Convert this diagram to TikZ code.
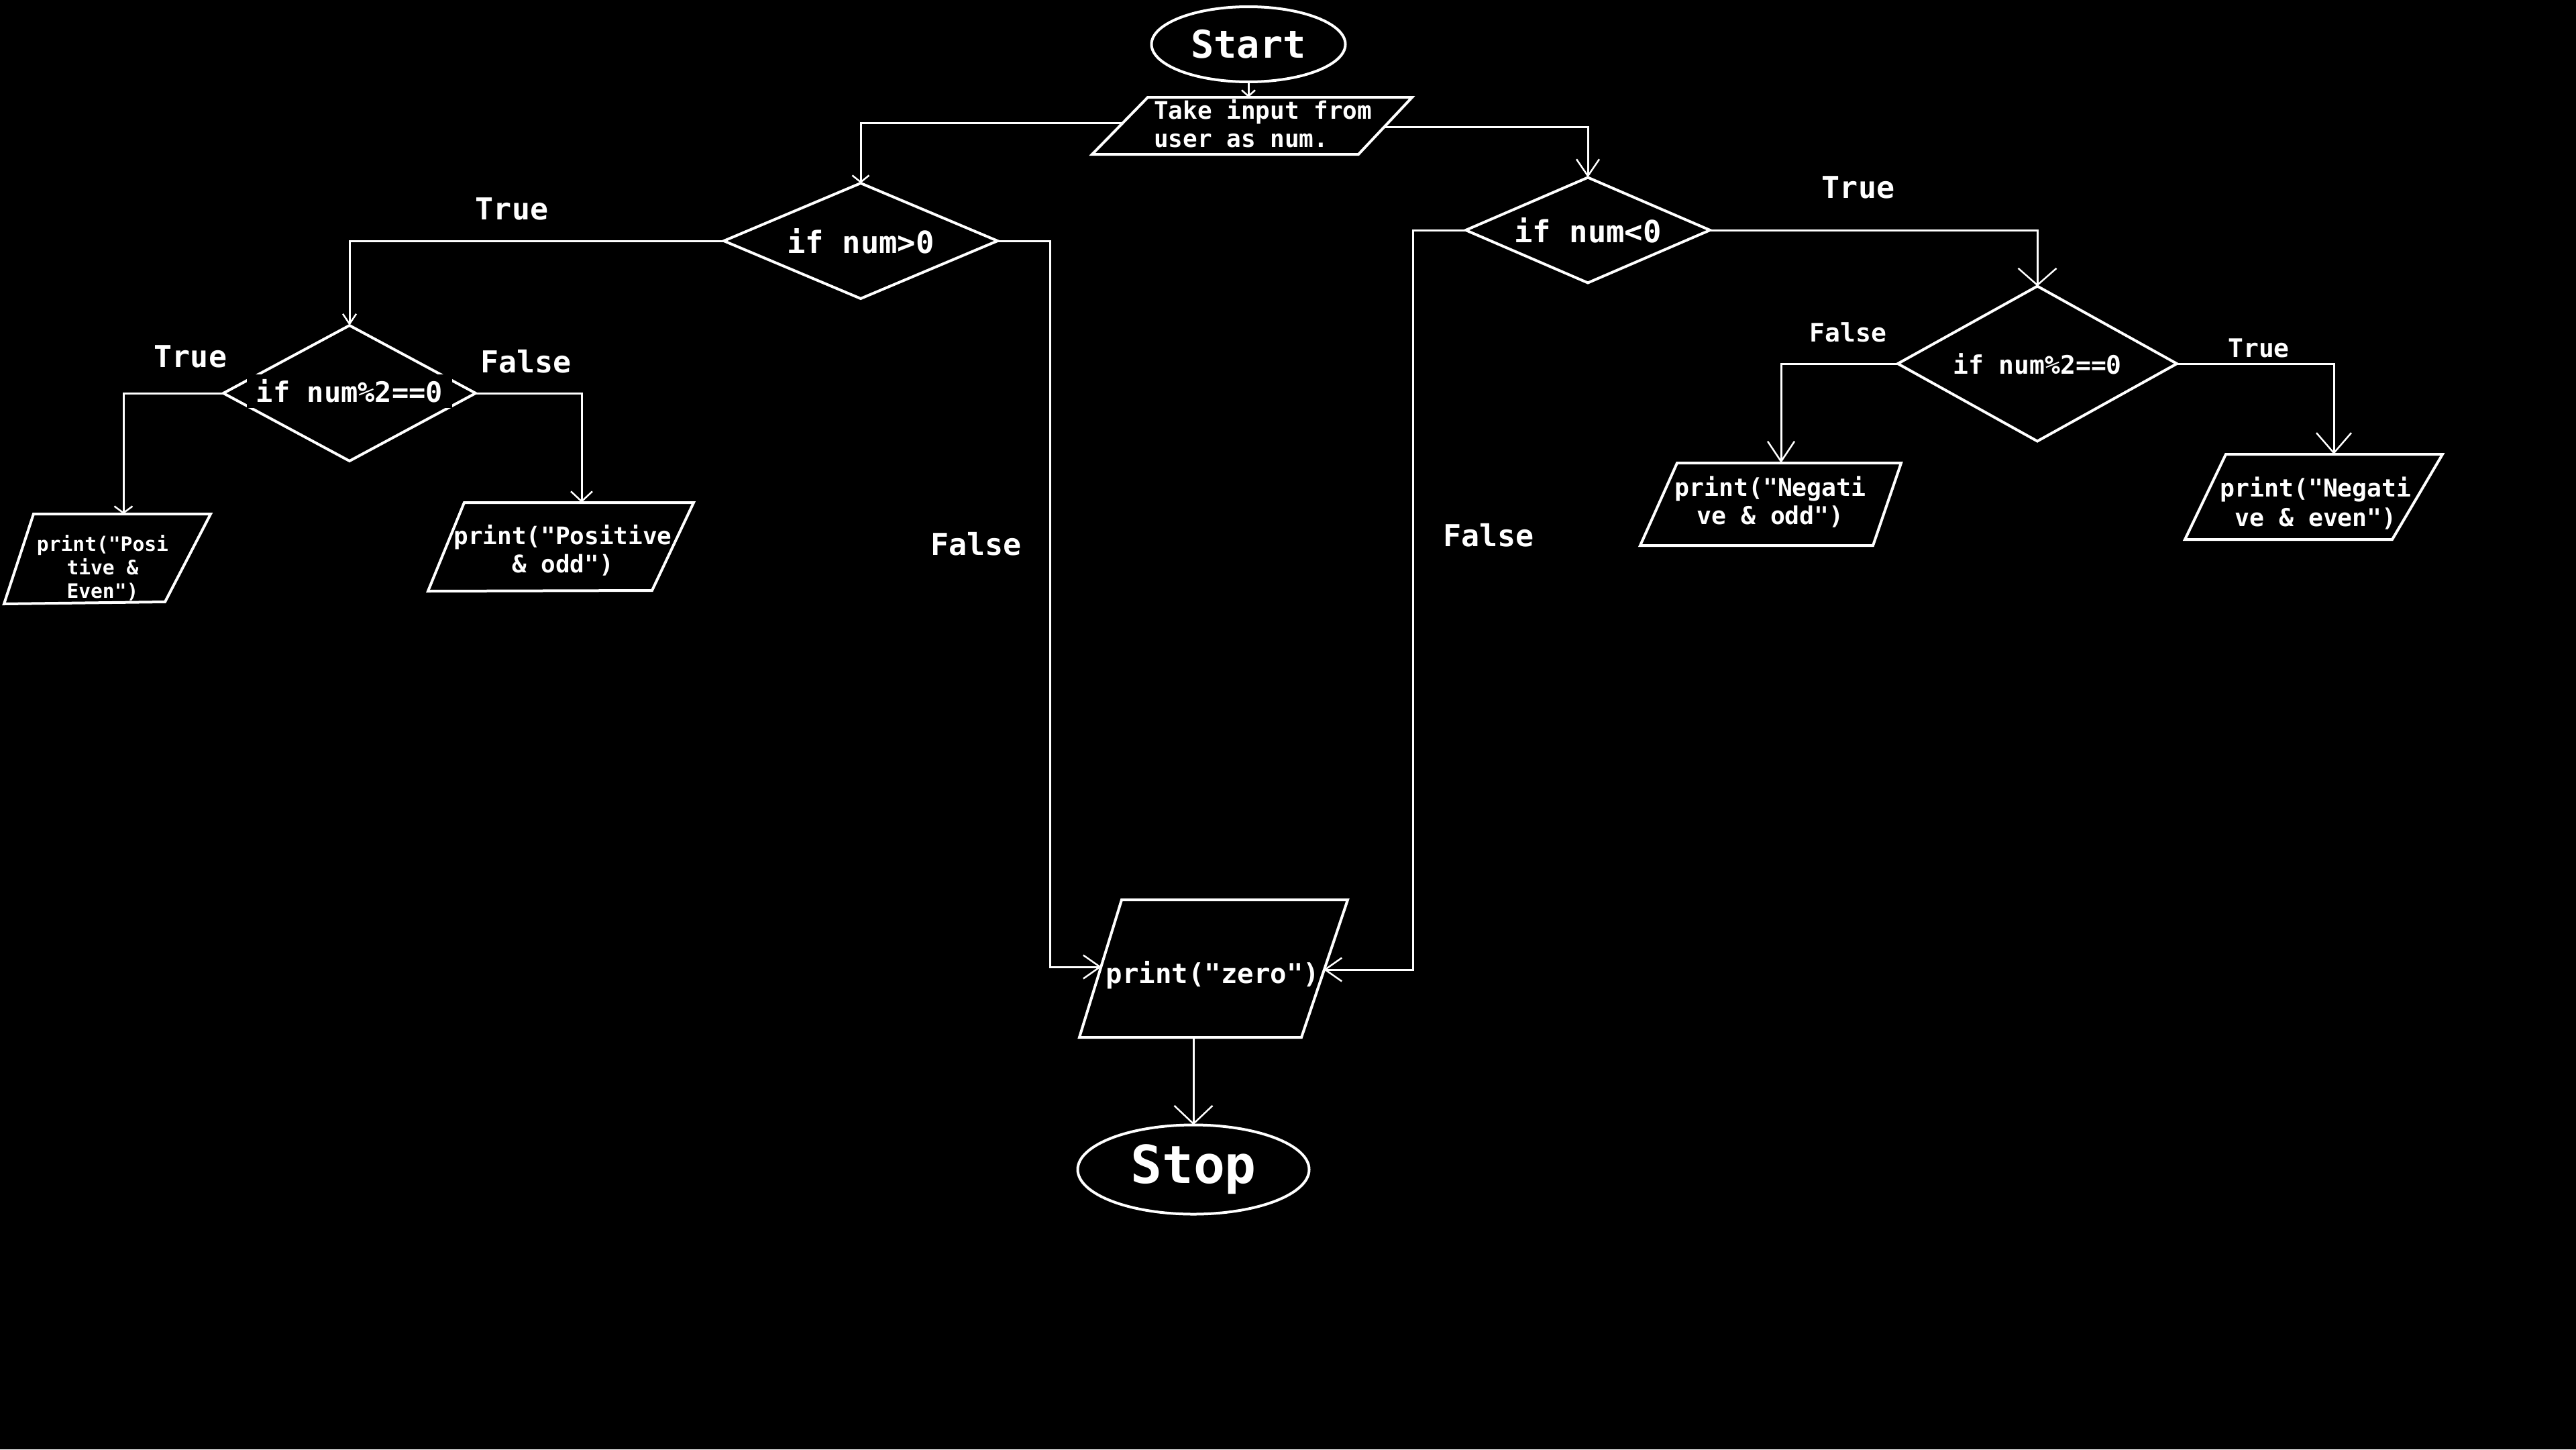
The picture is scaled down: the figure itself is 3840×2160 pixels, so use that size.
\documentclass[tikz,border=0pt]{standalone}
\usepackage{fontspec}
\setmonofont{DejaVu Sans Mono}
\usetikzlibrary{shapes.geometric,arrows.meta,calc}
\newcommand{\fsz}[2]{\fontsize{#1pt}{#2pt}\selectfont}
\begin{document}
\begin{tikzpicture}[x=1pt,y=-1pt,
  every node/.style={text=white, font=\ttfamily\bfseries, inner sep=0pt, outer sep=0pt},
  shp/.style={draw=white, line width=4pt},
  conn/.style={draw=white, line width=3pt},
  arr/.style n args={2}{conn, -{Straight Barb[length=#1pt, width=#2pt, line width=2.5pt]}},
  lbl/.style={font=\ttfamily\bfseries\fsz{45}{54}},
  slbl/.style={font=\ttfamily\bfseries\fsz{38}{46}}
]
\useasboundingbox (0,0) rectangle (3840,2160);
\fill[black] (0,0) rectangle (3840,2160);

% terminals
\node[shp, ellipse, minimum width=289pt, minimum height=112pt, font=\ttfamily\bfseries\fsz{57}{66}] (st) at (1861,66) {Start};
\node[shp, ellipse, minimum width=345pt, minimum height=133pt, font=\ttfamily\bfseries\fsz{78}{90}] (sp) at (1779,1743) {Stop};

% input parallelogram
\draw[shp] (1711,145) -- (2105,145) -- (2025,230) -- (1628,230) -- cycle;
\node[anchor=west, align=left, font=\ttfamily\bfseries\fsz{36}{42}] (in) at (1720,184) {Take input from\\user as num.};
\coordinate (intop) at (1861,145);
\coordinate (inL) at (1674,183);
\coordinate (inR) at (2064,189);

% decisions
\node[shp, diamond, aspect=2.37, minimum width=408pt, minimum height=172pt, font=\ttfamily\bfseries\fsz{45.5}{54}] (d1) at (1283,359) {if num>0};
\node[shp, diamond, aspect=2.32, minimum width=364pt, minimum height=157pt, font=\ttfamily\bfseries\fsz{45.5}{54}] (d2) at (2367,343) {if num<0};
\node[shp, diamond, aspect=1.86, minimum width=376pt, minimum height=202pt] (d3) at (521,586) {};
\node[fill=black, inner xsep=14pt, inner ysep=8pt, font=\ttfamily\bfseries\fsz{42}{50}] (d3t) at (521,583) {if num\%2==0};
\node[shp, diamond, aspect=1.8, minimum width=416pt, minimum height=231pt, font=\ttfamily\bfseries\fsz{38}{46}] (d4) at (3037,542) {if num\%2==0};

% outputs
\draw[shp] (50,766) -- (314,766) -- (246,897) -- (6,900) -- cycle;
\node[align=center, font=\ttfamily\bfseries\fsz{29.6}{35}] (pe) at (153,846) {print("Posi\\tive \&\\Even")};
\coordinate (pet) at (184,766);

\draw[shp] (692,749) -- (1034,749) -- (972,880) -- (638,881) -- cycle;
\node[align=center, font=\ttfamily\bfseries\fsz{36}{42}] (po) at (839,820) {print("Positive\\\& odd")};
\coordinate (pot) at (867,749);

\draw[shp] (1672,1341) -- (2009,1341) -- (1940,1546) -- (1609,1546) -- cycle;
\node[anchor=base, font=\ttfamily\bfseries\fsz{40.7}{48}] (pz) at (1808,1465) {print("zero")};
\coordinate (pzL) at (1642,1441);
\coordinate (pzR) at (1973,1445);
\coordinate (pzB) at (1779,1546);

\draw[shp] (2500,690) -- (2834,690) -- (2792,813) -- (2445,813) -- cycle;
\node[align=center, font=\ttfamily\bfseries\fsz{36.5}{42}] (no) at (2639,748) {print("Negati\\ve \& odd")};
\coordinate (not) at (2655,690);

\draw[shp] (3318,677) -- (3641,677) -- (3566,804) -- (3257,804) -- cycle;
\node[align=center, font=\ttfamily\bfseries\fsz{36.5}{44}] (ne) at (3452,750) {print("Negati\\ve \& even")};
\coordinate (net) at (3479,677);

% connectors
\draw[arr={9}{20}] (st.south) -- (intop);
\draw[arr={10}{25}] (inL) -| (d1.north);
\draw[arr={25}{34}] (inR) -| (d2.north);
\draw[arr={15}{20}] (d1.west) -| (d3.north);
\draw[arr={25}{35}] (d1.east) -- ++(78,0) |- (pzL);
\draw[arr={25}{35}] (d2.west) -- ++(-79,0) |- (pzR);
\draw[arr={27}{57}] (pzB) -- (sp.north);
\draw[arr={25}{57}] (d2.east) -| (d4.north);
\draw[arr={10}{27}] (d3.west) -| (pet);
\draw[arr={15}{32}] (d3.east) -| (pot);
\draw[arr={30}{40}] (d4.west) -| (not);
\draw[arr={30}{52}] (d4.east) -| (net);

% labels
\node[lbl] (l1) at (763,311) {True};
\node[lbl] (l2) at (1455,811) {False};
\node[lbl] (l3) at (284,531) {True};
\node[lbl] (l4) at (784,539) {False};
\node[lbl] (l5) at (2219,798) {False};
\node[lbl] (l6) at (2770,279) {True};
\node[slbl] (l7) at (2755,495) {False};
\node[slbl] (l8) at (3367,519) {True};
\end{tikzpicture}
\end{document}
